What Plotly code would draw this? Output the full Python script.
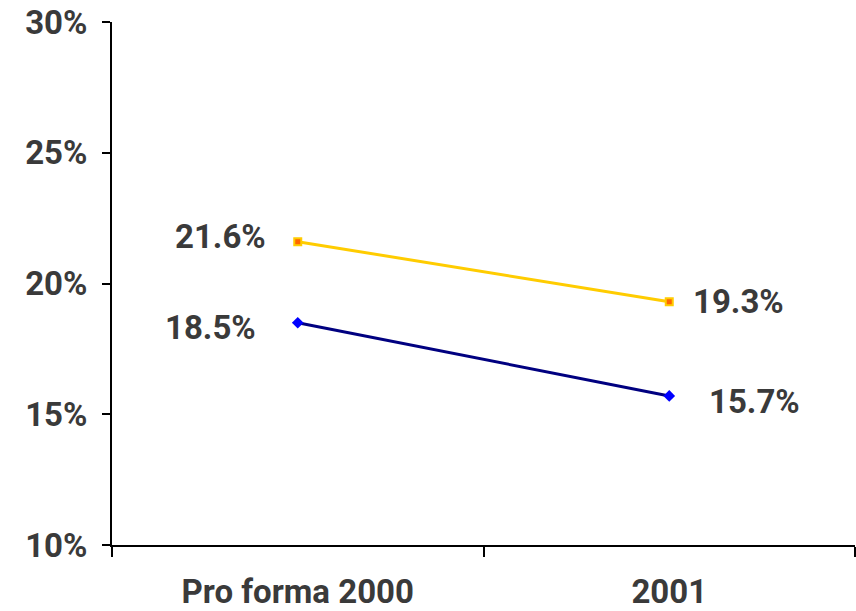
import plotly.graph_objects as go

categories = ["Pro forma 2000", "2001"]
series_top = [21.6, 19.3]      # yellow series, %
series_bottom = [18.5, 15.7]   # navy series, %
y_ticks = [10, 15, 20, 25, 30]
y_tick_labels = ["10%", "15%", "20%", "25%", "30%"]

FONT = "Roboto"
TEXT = "#3a3a3a"
SIZE = 33

fig = go.Figure()
fig.add_trace(go.Scatter(
    x=categories, y=series_top, mode="lines+markers",
    line=dict(color="#FFCC00", width=3),
    marker=dict(symbol="square", size=7, color="#FF6600",
                line=dict(color="#FFCC00", width=2)),
    hoverinfo="skip", showlegend=False))
fig.add_trace(go.Scatter(
    x=categories, y=series_bottom, mode="lines+markers",
    line=dict(color="#000080", width=3),
    marker=dict(symbol="diamond", size=9, color="#0000FF"),
    hoverinfo="skip", showlegend=False))

# value labels (x given as category index)
label_style = [
    (0, series_top[0], "right", -30, 5),
    (1, series_top[1], "left", 22, 0),
    (0, series_bottom[0], "right", -40, -5),
    (1, series_bottom[1], "left", 38, -6),
]
for cx, cy, anchor, xs, ys in label_style:
    fig.add_annotation(x=cx, y=cy, text=f"{cy:.1f}%", showarrow=False,
                       xanchor=anchor, yanchor="middle", xshift=xs, yshift=ys,
                       font=dict(family=FONT, size=SIZE, color=TEXT, weight="bold"))

fig.update_layout(
    width=856, height=611,
    margin=dict(l=112, r=1, t=22, b=66),
    paper_bgcolor="white", plot_bgcolor="white",
    font=dict(family=FONT, size=SIZE, color=TEXT, weight="bold"),
)
fig.update_xaxes(
    type="category", range=[-0.5, 1.5], tickson="boundaries",
    showline=True, linecolor="black", linewidth=2,
    ticks="outside", ticklen=10, tickwidth=2, tickcolor="black",
    ticklabelstandoff=16,
    showgrid=False, zeroline=False,
    tickfont=dict(family=FONT, size=SIZE, color=TEXT, weight="bold"),
)
fig.update_yaxes(
    range=[10, 30], tickvals=y_ticks, ticktext=y_tick_labels,
    showline=True, linecolor="black", linewidth=2,
    ticks="outside", ticklen=8, tickwidth=2, tickcolor="black",
    ticklabelstandoff=8,
    showgrid=False, zeroline=False,
    tickfont=dict(family=FONT, size=SIZE, color=TEXT, weight="bold"),
)

fig.write_html("out.html")
